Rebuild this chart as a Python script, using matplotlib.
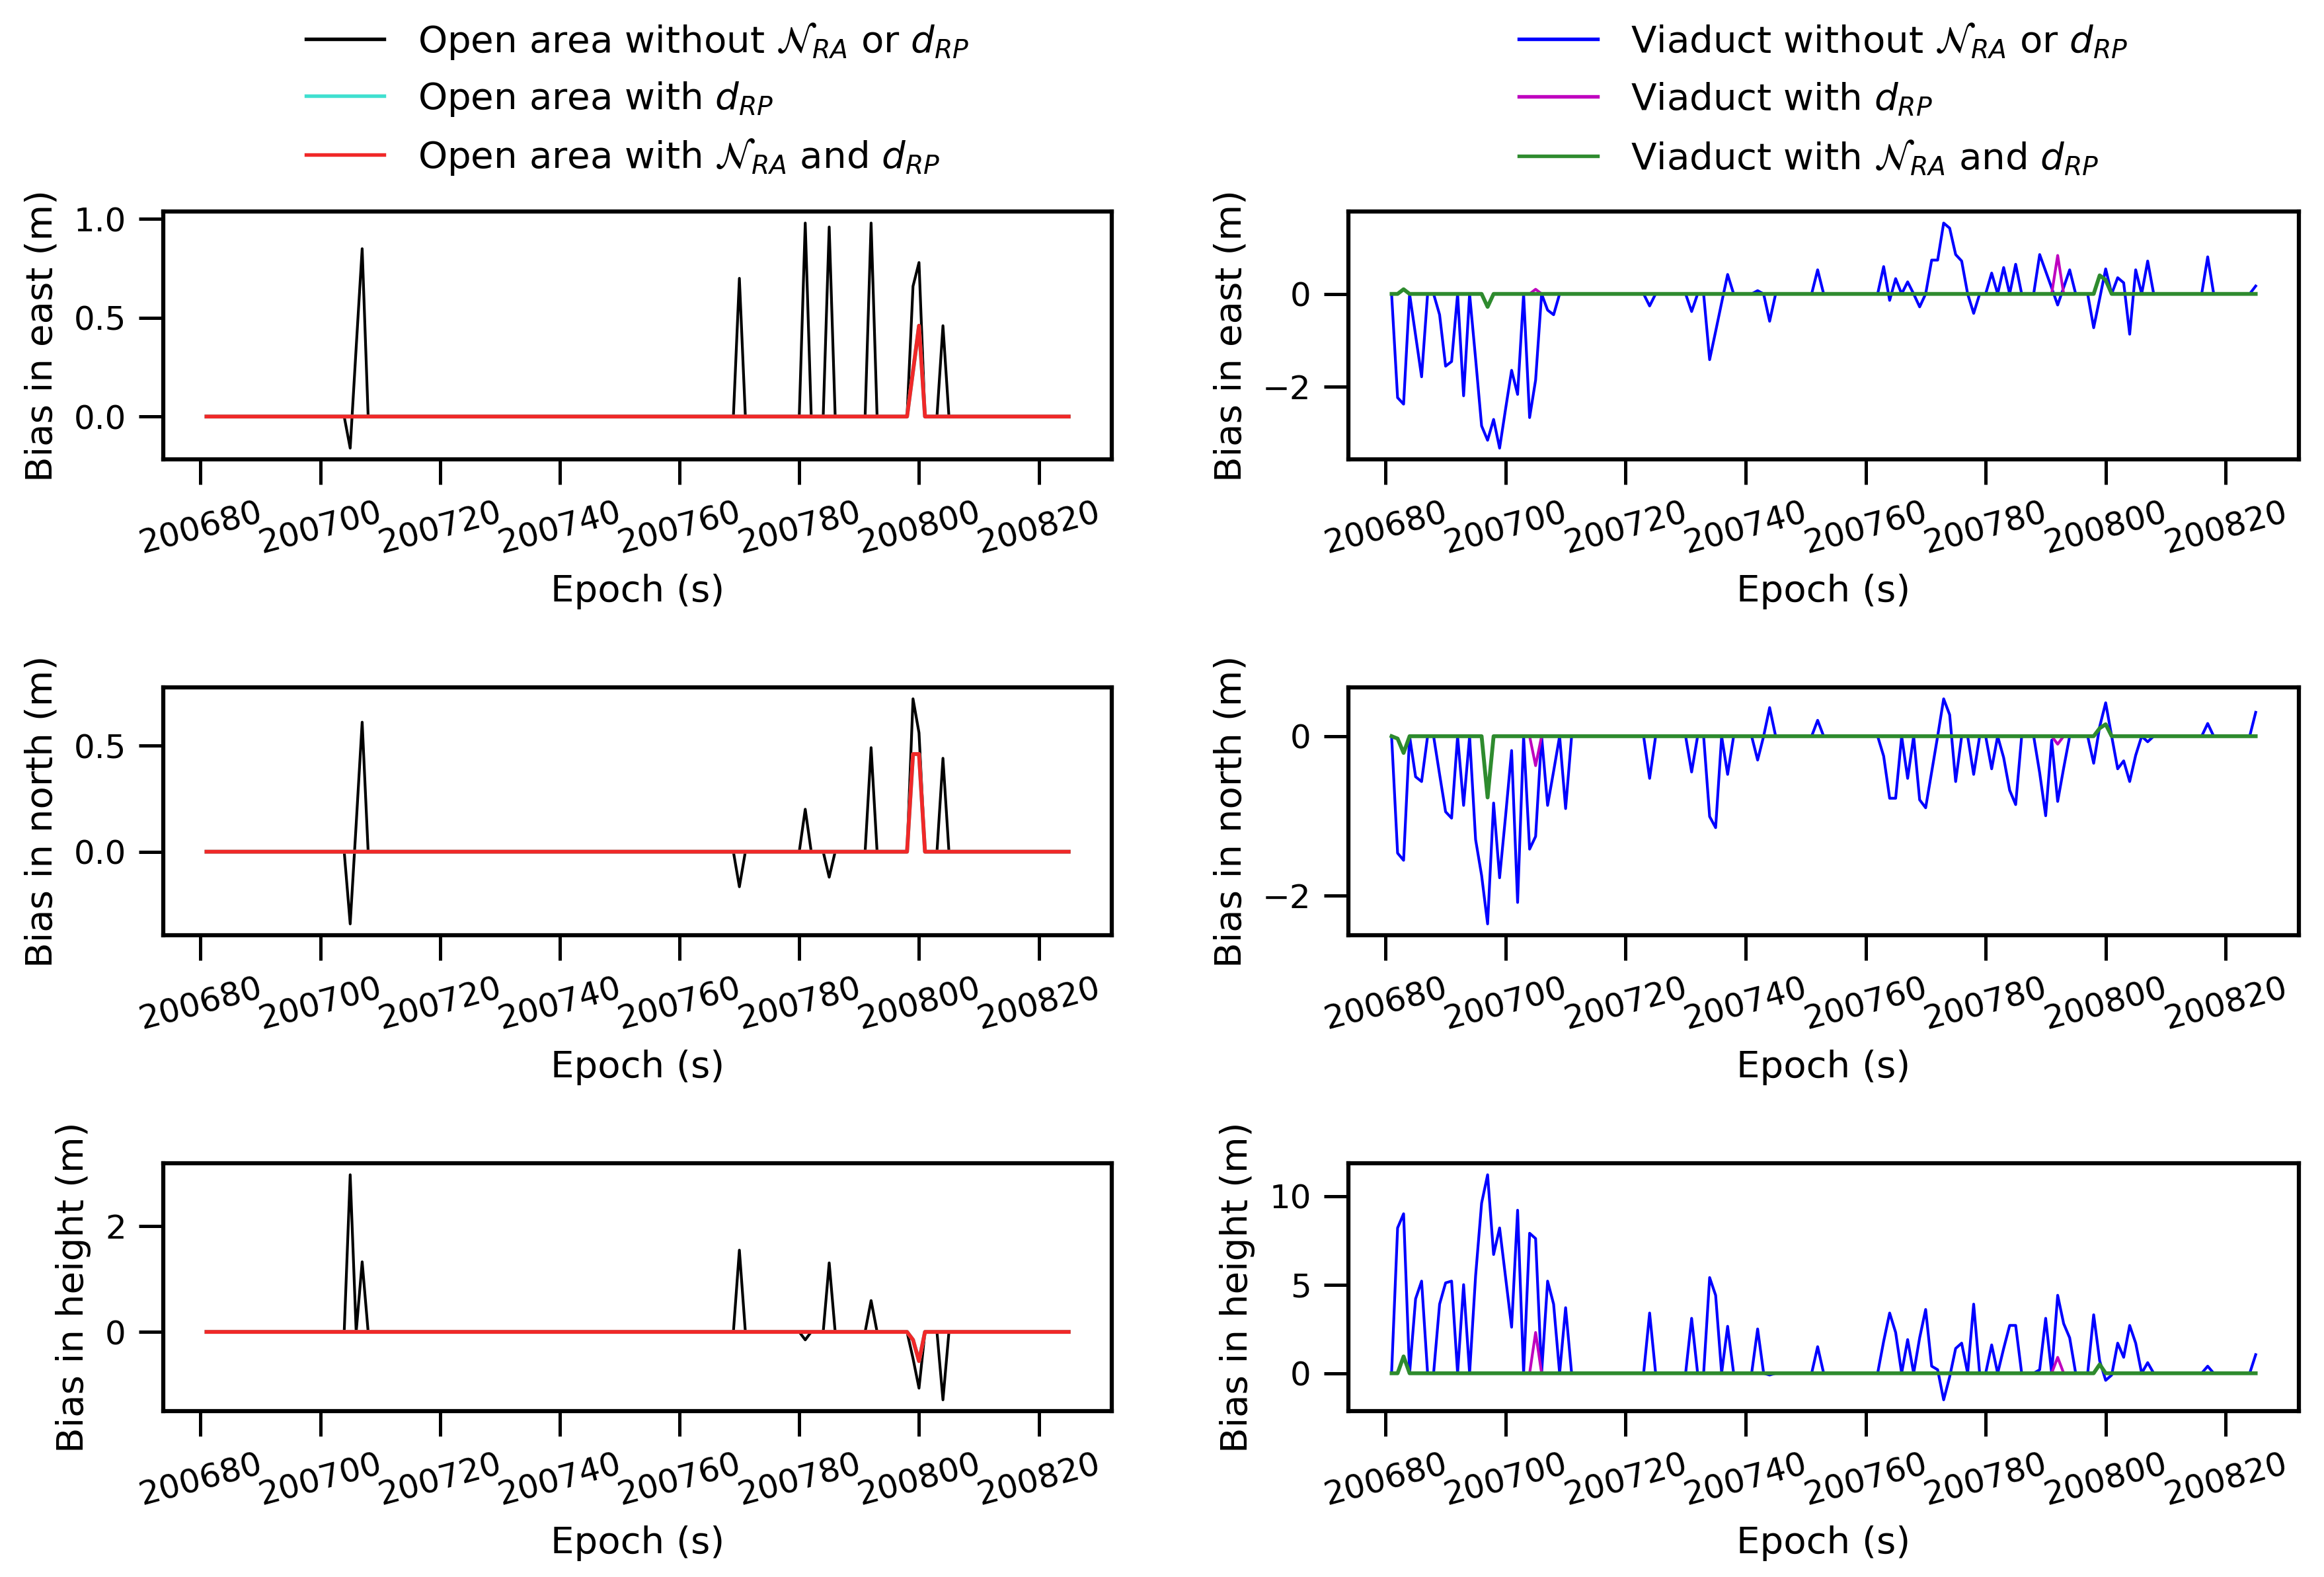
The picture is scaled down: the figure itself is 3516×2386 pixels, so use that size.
import matplotlib
matplotlib.use("Agg")
import matplotlib.pyplot as plt
from matplotlib.ticker import ScalarFormatter

plt.rcParams['font.family'] = ['DejaVu Sans']

# ---------------- data (epochs 200681 ... 200825, 1 s) ----------------
epochs = list(range(200681, 200826))
xticks = [200680, 200700, 200720, 200740, 200760, 200780, 200800, 200820]

# Open area, east
oe_raw = [0, 0, 0, 0, 0, 0, 0, 0, 0, 0,
          0, 0, 0, 0, 0, 0, 0, 0, 0, 0,
          0, 0, 0, 0, -0.16, 0.35, 0.85, 0, 0, 0,
          0, 0, 0, 0, 0, 0, 0, 0, 0, 0,
          0, 0, 0, 0, 0, 0, 0, 0, 0, 0,
          0, 0, 0, 0, 0, 0, 0, 0, 0, 0,
          0, 0, 0, 0, 0, 0, 0, 0, 0, 0,
          0, 0, 0, 0, 0, 0, 0, 0, 0, 0,
          0, 0, 0, 0, 0, 0, 0, 0, 0, 0.70,
          0, 0, 0, 0, 0, 0, 0, 0, 0, 0,
          0.98, 0, 0, 0, 0.96, 0, 0, 0, 0, 0,
          0, 0.98, 0, 0, 0, 0, 0, 0, 0.66, 0.78,
          0, 0, 0, 0.46, 0, 0, 0, 0, 0, 0,
          0, 0, 0, 0, 0, 0, 0, 0, 0, 0,
          0, 0, 0, 0, 0]
oe_drp = [0, 0, 0, 0, 0, 0, 0, 0, 0, 0,
          0, 0, 0, 0, 0, 0, 0, 0, 0, 0,
          0, 0, 0, 0, 0, 0, 0, 0, 0, 0,
          0, 0, 0, 0, 0, 0, 0, 0, 0, 0,
          0, 0, 0, 0, 0, 0, 0, 0, 0, 0,
          0, 0, 0, 0, 0, 0, 0, 0, 0, 0,
          0, 0, 0, 0, 0, 0, 0, 0, 0, 0,
          0, 0, 0, 0, 0, 0, 0, 0, 0, 0,
          0, 0, 0, 0, 0, 0, 0, 0, 0, 0,
          0, 0, 0, 0, 0, 0, 0, 0, 0, 0,
          0, 0, 0, 0, 0, 0, 0, 0, 0, 0,
          0, 0, 0, 0, 0, 0, 0, 0, 0.23, 0.46,
          0, 0, 0, 0, 0, 0, 0, 0, 0, 0,
          0, 0, 0, 0, 0, 0, 0, 0, 0, 0,
          0, 0, 0, 0, 0]
oe_both = [0, 0, 0, 0, 0, 0, 0, 0, 0, 0,
           0, 0, 0, 0, 0, 0, 0, 0, 0, 0,
           0, 0, 0, 0, 0, 0, 0, 0, 0, 0,
           0, 0, 0, 0, 0, 0, 0, 0, 0, 0,
           0, 0, 0, 0, 0, 0, 0, 0, 0, 0,
           0, 0, 0, 0, 0, 0, 0, 0, 0, 0,
           0, 0, 0, 0, 0, 0, 0, 0, 0, 0,
           0, 0, 0, 0, 0, 0, 0, 0, 0, 0,
           0, 0, 0, 0, 0, 0, 0, 0, 0, 0,
           0, 0, 0, 0, 0, 0, 0, 0, 0, 0,
           0, 0, 0, 0, 0, 0, 0, 0, 0, 0,
           0, 0, 0, 0, 0, 0, 0, 0, 0.23, 0.46,
           0, 0, 0, 0, 0, 0, 0, 0, 0, 0,
           0, 0, 0, 0, 0, 0, 0, 0, 0, 0,
           0, 0, 0, 0, 0]

# Open area, north
on_raw = [0, 0, 0, 0, 0, 0, 0, 0, 0, 0,
          0, 0, 0, 0, 0, 0, 0, 0, 0, 0,
          0, 0, 0, 0, -0.34, 0.13, 0.61, 0, 0, 0,
          0, 0, 0, 0, 0, 0, 0, 0, 0, 0,
          0, 0, 0, 0, 0, 0, 0, 0, 0, 0,
          0, 0, 0, 0, 0, 0, 0, 0, 0, 0,
          0, 0, 0, 0, 0, 0, 0, 0, 0, 0,
          0, 0, 0, 0, 0, 0, 0, 0, 0, 0,
          0, 0, 0, 0, 0, 0, 0, 0, 0, -0.165,
          0, 0, 0, 0, 0, 0, 0, 0, 0, 0,
          0.20, 0, 0, 0, -0.12, 0, 0, 0, 0, 0,
          0, 0.49, 0, 0, 0, 0, 0, 0, 0.72, 0.56,
          0, 0, 0, 0.44, 0, 0, 0, 0, 0, 0,
          0, 0, 0, 0, 0, 0, 0, 0, 0, 0,
          0, 0, 0, 0, 0]
on_drp = [0, 0, 0, 0, 0, 0, 0, 0, 0, 0,
          0, 0, 0, 0, 0, 0, 0, 0, 0, 0,
          0, 0, 0, 0, 0, 0, 0, 0, 0, 0,
          0, 0, 0, 0, 0, 0, 0, 0, 0, 0,
          0, 0, 0, 0, 0, 0, 0, 0, 0, 0,
          0, 0, 0, 0, 0, 0, 0, 0, 0, 0,
          0, 0, 0, 0, 0, 0, 0, 0, 0, 0,
          0, 0, 0, 0, 0, 0, 0, 0, 0, 0,
          0, 0, 0, 0, 0, 0, 0, 0, 0, 0,
          0, 0, 0, 0, 0, 0, 0, 0, 0, 0,
          0, 0, 0, 0, 0, 0, 0, 0, 0, 0,
          0, 0, 0, 0, 0, 0, 0, 0, 0.46, 0.46,
          0, 0, 0, 0, 0, 0, 0, 0, 0, 0,
          0, 0, 0, 0, 0, 0, 0, 0, 0, 0,
          0, 0, 0, 0, 0]
on_both = [0, 0, 0, 0, 0, 0, 0, 0, 0, 0,
           0, 0, 0, 0, 0, 0, 0, 0, 0, 0,
           0, 0, 0, 0, 0, 0, 0, 0, 0, 0,
           0, 0, 0, 0, 0, 0, 0, 0, 0, 0,
           0, 0, 0, 0, 0, 0, 0, 0, 0, 0,
           0, 0, 0, 0, 0, 0, 0, 0, 0, 0,
           0, 0, 0, 0, 0, 0, 0, 0, 0, 0,
           0, 0, 0, 0, 0, 0, 0, 0, 0, 0,
           0, 0, 0, 0, 0, 0, 0, 0, 0, 0,
           0, 0, 0, 0, 0, 0, 0, 0, 0, 0,
           0, 0, 0, 0, 0, 0, 0, 0, 0, 0,
           0, 0, 0, 0, 0, 0, 0, 0, 0.46, 0.46,
           0, 0, 0, 0, 0, 0, 0, 0, 0, 0,
           0, 0, 0, 0, 0, 0, 0, 0, 0, 0,
           0, 0, 0, 0, 0]

# Open area, height
oh_raw = [0, 0, 0, 0, 0, 0, 0, 0, 0, 0,
          0, 0, 0, 0, 0, 0, 0, 0, 0, 0,
          0, 0, 0, 0, 2.96, 0, 1.32, 0, 0, 0,
          0, 0, 0, 0, 0, 0, 0, 0, 0, 0,
          0, 0, 0, 0, 0, 0, 0, 0, 0, 0,
          0, 0, 0, 0, 0, 0, 0, 0, 0, 0,
          0, 0, 0, 0, 0, 0, 0, 0, 0, 0,
          0, 0, 0, 0, 0, 0, 0, 0, 0, 0,
          0, 0, 0, 0, 0, 0, 0, 0, 0, 1.54,
          0, 0, 0, 0, 0, 0, 0, 0, 0, 0,
          -0.15, 0, 0, 0, 1.30, 0, 0, 0, 0, 0,
          0, 0.59, 0, 0, 0, 0, 0, 0, -0.50, -1.06,
          0, 0, 0, -1.28, 0, 0, 0, 0, 0, 0,
          0, 0, 0, 0, 0, 0, 0, 0, 0, 0,
          0, 0, 0, 0, 0]
oh_drp = [0, 0, 0, 0, 0, 0, 0, 0, 0, 0,
          0, 0, 0, 0, 0, 0, 0, 0, 0, 0,
          0, 0, 0, 0, 0, 0, 0, 0, 0, 0,
          0, 0, 0, 0, 0, 0, 0, 0, 0, 0,
          0, 0, 0, 0, 0, 0, 0, 0, 0, 0,
          0, 0, 0, 0, 0, 0, 0, 0, 0, 0,
          0, 0, 0, 0, 0, 0, 0, 0, 0, 0,
          0, 0, 0, 0, 0, 0, 0, 0, 0, 0,
          0, 0, 0, 0, 0, 0, 0, 0, 0, 0,
          0, 0, 0, 0, 0, 0, 0, 0, 0, 0,
          0, 0, 0, 0, 0, 0, 0, 0, 0, 0,
          0, 0, 0, 0, 0, 0, 0, 0, -0.15, -0.55,
          0, 0, 0, 0, 0, 0, 0, 0, 0, 0,
          0, 0, 0, 0, 0, 0, 0, 0, 0, 0,
          0, 0, 0, 0, 0]
oh_both = [0, 0, 0, 0, 0, 0, 0, 0, 0, 0,
           0, 0, 0, 0, 0, 0, 0, 0, 0, 0,
           0, 0, 0, 0, 0, 0, 0, 0, 0, 0,
           0, 0, 0, 0, 0, 0, 0, 0, 0, 0,
           0, 0, 0, 0, 0, 0, 0, 0, 0, 0,
           0, 0, 0, 0, 0, 0, 0, 0, 0, 0,
           0, 0, 0, 0, 0, 0, 0, 0, 0, 0,
           0, 0, 0, 0, 0, 0, 0, 0, 0, 0,
           0, 0, 0, 0, 0, 0, 0, 0, 0, 0,
           0, 0, 0, 0, 0, 0, 0, 0, 0, 0,
           0, 0, 0, 0, 0, 0, 0, 0, 0, 0,
           0, 0, 0, 0, 0, 0, 0, 0, -0.15, -0.55,
           0, 0, 0, 0, 0, 0, 0, 0, 0, 0,
           0, 0, 0, 0, 0, 0, 0, 0, 0, 0,
           0, 0, 0, 0, 0]

# Viaduct, east
ve_raw = [0, -2.24, -2.38, 0, -0.90, -1.79, 0, 0, -0.45, -1.56,
          -1.46, 0, -2.20, 0, -1.40, -2.85, -3.16, -2.71, -3.33, -2.48,
          -1.65, -2.17, 0, -2.67, -1.86, 0, -0.35, -0.45, 0, 0,
          0, 0, 0, 0, 0, 0, 0, 0, 0, 0,
          0, 0, 0, -0.26, 0, 0, 0, 0, 0, 0,
          -0.38, 0, 0, -1.42, -0.81, -0.19, 0.42, 0, 0, 0,
          0, 0.07, 0, -0.59, 0, 0, 0, 0, 0, 0,
          0, 0.52, 0, 0, 0, 0, 0, 0, 0, 0,
          0, 0, 0.59, -0.14, 0.33, 0, 0.26, 0, -0.28, 0,
          0.73, 0.73, 1.53, 1.42, 0.85, 0.71, 0, -0.42, 0, 0,
          0.45, 0, 0.57, 0, 0.64, 0, 0, 0, 0.85, 0.49,
          0.13, -0.24, 0.14, 0.52, 0, 0, 0, -0.73, -0.10, 0.54,
          0, 0.35, 0.24, -0.87, 0.52, 0, 0.71, 0, 0, 0,
          0, 0, 0, 0, 0, 0, 0.80, 0, 0, 0,
          0, 0, 0, 0, 0.17]
ve_drp = [0, 0, 0.10, 0, 0, 0, 0, 0, 0, 0,
          0, 0, 0, 0, 0, 0, -0.28, 0, 0, 0,
          0, 0, 0, 0, 0.10, 0, 0, 0, 0, 0,
          0, 0, 0, 0, 0, 0, 0, 0, 0, 0,
          0, 0, 0, 0, 0, 0, 0, 0, 0, 0,
          0, 0, 0, 0, 0, 0, 0, 0, 0, 0,
          0, 0, 0, 0, 0, 0, 0, 0, 0, 0,
          0, 0, 0, 0, 0, 0, 0, 0, 0, 0,
          0, 0, 0, 0, 0, 0, 0, 0, 0, 0,
          0, 0, 0, 0, 0, 0, 0, 0, 0, 0,
          0, 0, 0, 0, 0, 0, 0, 0, 0, 0,
          0, 0.83, 0, 0, 0, 0, 0, 0, 0.40, 0.30,
          0, 0, 0, 0, 0, 0, 0, 0, 0, 0,
          0, 0, 0, 0, 0, 0, 0, 0, 0, 0,
          0, 0, 0, 0, 0]
ve_both = [0, 0, 0.10, 0, 0, 0, 0, 0, 0, 0,
           0, 0, 0, 0, 0, 0, -0.28, 0, 0, 0,
           0, 0, 0, 0, 0, 0, 0, 0, 0, 0,
           0, 0, 0, 0, 0, 0, 0, 0, 0, 0,
           0, 0, 0, 0, 0, 0, 0, 0, 0, 0,
           0, 0, 0, 0, 0, 0, 0, 0, 0, 0,
           0, 0, 0, 0, 0, 0, 0, 0, 0, 0,
           0, 0, 0, 0, 0, 0, 0, 0, 0, 0,
           0, 0, 0, 0, 0, 0, 0, 0, 0, 0,
           0, 0, 0, 0, 0, 0, 0, 0, 0, 0,
           0, 0, 0, 0, 0, 0, 0, 0, 0, 0,
           0, 0, 0, 0, 0, 0, 0, 0, 0.40, 0.30,
           0, 0, 0, 0, 0, 0, 0, 0, 0, 0,
           0, 0, 0, 0, 0, 0, 0, 0, 0, 0,
           0, 0, 0, 0, 0]

# Viaduct, north
vn_raw = [0, -1.47, -1.56, 0, -0.51, -0.57, 0, 0, -0.48, -0.95,
          -1.03, 0, -0.87, 0, -1.30, -1.75, -2.36, -0.84, -1.78, -1.00,
          -0.18, -2.09, 0, -1.42, -1.26, 0, -0.87, -0.44, 0, -0.91,
          0, 0, 0, 0, 0, 0, 0, 0, 0, 0,
          0, 0, 0, -0.53, 0, 0, 0, 0, 0, 0,
          -0.45, 0, 0, -1.01, -1.15, 0, -0.48, 0, 0, 0,
          0, -0.30, 0, 0.36, 0, 0, 0, 0, 0, 0,
          0, 0.20, 0, 0, 0, 0, 0, 0, 0, 0,
          0, 0, -0.25, -0.78, -0.78, 0, -0.53, 0, -0.80, -0.90,
          -0.45, 0, 0.47, 0.27, -0.57, 0, 0, -0.48, 0, 0,
          -0.41, 0, -0.27, -0.68, -0.86, 0, 0, 0, -0.46, -1.00,
          -0.05, -0.82, -0.40, 0, 0, 0, 0, -0.34, 0.12, 0.42,
          0, -0.41, -0.31, -0.57, -0.24, 0, -0.07, 0, 0, 0,
          0, 0, 0, 0, 0, 0, 0.16, 0, 0, 0,
          0, 0, 0, 0, 0.30]
vn_drp = [0, -0.03, -0.21, 0, 0, 0, 0, 0, 0, 0,
          0, 0, 0, 0, 0, 0, -0.77, 0, 0, 0,
          0, 0, 0, 0, -0.37, 0, 0, 0, 0, 0,
          0, 0, 0, 0, 0, 0, 0, 0, 0, 0,
          0, 0, 0, 0, 0, 0, 0, 0, 0, 0,
          0, 0, 0, 0, 0, 0, 0, 0, 0, 0,
          0, 0, 0, 0, 0, 0, 0, 0, 0, 0,
          0, 0, 0, 0, 0, 0, 0, 0, 0, 0,
          0, 0, 0, 0, 0, 0, 0, 0, 0, 0,
          0, 0, 0, 0, 0, 0, 0, 0, 0, 0,
          0, 0, 0, 0, 0, 0, 0, 0, 0, 0,
          0, -0.10, 0, 0, 0, 0, 0, 0, 0.10, 0.15,
          0, 0, 0, 0, 0, 0, 0, 0, 0, 0,
          0, 0, 0, 0, 0, 0, 0, 0, 0, 0,
          0, 0, 0, 0, 0]
vn_both = [0, -0.03, -0.21, 0, 0, 0, 0, 0, 0, 0,
           0, 0, 0, 0, 0, 0, -0.77, 0, 0, 0,
           0, 0, 0, 0, 0, 0, 0, 0, 0, 0,
           0, 0, 0, 0, 0, 0, 0, 0, 0, 0,
           0, 0, 0, 0, 0, 0, 0, 0, 0, 0,
           0, 0, 0, 0, 0, 0, 0, 0, 0, 0,
           0, 0, 0, 0, 0, 0, 0, 0, 0, 0,
           0, 0, 0, 0, 0, 0, 0, 0, 0, 0,
           0, 0, 0, 0, 0, 0, 0, 0, 0, 0,
           0, 0, 0, 0, 0, 0, 0, 0, 0, 0,
           0, 0, 0, 0, 0, 0, 0, 0, 0, 0,
           0, 0, 0, 0, 0, 0, 0, 0, 0.10, 0.15,
           0, 0, 0, 0, 0, 0, 0, 0, 0, 0,
           0, 0, 0, 0, 0, 0, 0, 0, 0, 0,
           0, 0, 0, 0, 0]

# Viaduct, height
vh_raw = [0, 8.2, 9.0, 0, 4.2, 5.2, 0, 0, 3.9, 5.1,
          5.2, 0, 5.0, 0, 5.5, 9.6, 11.2, 6.7, 8.2, 5.4,
          2.6, 9.2, 0, 7.9, 7.6, 0, 5.2, 3.9, 0, 3.7,
          0, 0, 0, 0, 0, 0, 0, 0, 0, 0,
          0, 0, 0, 3.4, 0, 0, 0, 0, 0, 0,
          3.1, 0, 0, 5.4, 4.4, 0, 2.65, 0, 0, 0,
          0, 2.5, 0, -0.1, 0, 0, 0, 0, 0, 0,
          0, 1.5, 0, 0, 0, 0, 0, 0, 0, 0,
          0, 0, 1.8, 3.4, 2.3, 0, 1.9, 0, 2.0, 3.6,
          0.4, 0.2, -1.5, -0.2, 1.4, 1.7, 0, 3.9, 0, 0,
          1.6, 0, 1.4, 2.7, 2.7, 0, 0, 0, 0.2, 3.1,
          0, 4.4, 2.8, 2.0, 0, 0, 0, 3.3, 0.7, -0.4,
          -0.1, 1.7, 0.9, 2.7, 1.7, 0, 0.6, 0, 0, 0,
          0, 0, 0, 0, 0, 0, 0.4, 0, 0, 0,
          0, 0, 0, 0, 1.05]
vh_drp = [0, 0, 0.95, 0, 0, 0, 0, 0, 0, 0,
          0, 0, 0, 0, 0, 0, 0, 0, 0, 0,
          0, 0, 0, 0, 2.3, 0, 0, 0, 0, 0,
          0, 0, 0, 0, 0, 0, 0, 0, 0, 0,
          0, 0, 0, 0, 0, 0, 0, 0, 0, 0,
          0, 0, 0, 0, 0, 0, 0, 0, 0, 0,
          0, 0, 0, 0, 0, 0, 0, 0, 0, 0,
          0, 0, 0, 0, 0, 0, 0, 0, 0, 0,
          0, 0, 0, 0, 0, 0, 0, 0, 0, 0,
          0, 0, 0, 0, 0, 0, 0, 0, 0, 0,
          0, 0, 0, 0, 0, 0, 0, 0, 0, 0,
          0, 0.9, 0, 0, 0, 0, 0, 0, 0.5, 0,
          0, 0, 0, 0, 0, 0, 0, 0, 0, 0,
          0, 0, 0, 0, 0, 0, 0, 0, 0, 0,
          0, 0, 0, 0, 0]
vh_both = [0, 0, 0.95, 0, 0, 0, 0, 0, 0, 0,
           0, 0, 0, 0, 0, 0, 0, 0, 0, 0,
           0, 0, 0, 0, 0, 0, 0, 0, 0, 0,
           0, 0, 0, 0, 0, 0, 0, 0, 0, 0,
           0, 0, 0, 0, 0, 0, 0, 0, 0, 0,
           0, 0, 0, 0, 0, 0, 0, 0, 0, 0,
           0, 0, 0, 0, 0, 0, 0, 0, 0, 0,
           0, 0, 0, 0, 0, 0, 0, 0, 0, 0,
           0, 0, 0, 0, 0, 0, 0, 0, 0, 0,
           0, 0, 0, 0, 0, 0, 0, 0, 0, 0,
           0, 0, 0, 0, 0, 0, 0, 0, 0, 0,
           0, 0, 0, 0, 0, 0, 0, 0, 0.5, 0,
           0, 0, 0, 0, 0, 0, 0, 0, 0, 0,
           0, 0, 0, 0, 0, 0, 0, 0, 0, 0,
           0, 0, 0, 0, 0]

open_labels = [r"Open area without $\mathcal{N}_{RA}$ or $d_{RP}$",
               r"Open area with $d_{RP}$",
               r"Open area with $\mathcal{N}_{RA}$ and $d_{RP}$"]
via_labels = [r"Viaduct without $\mathcal{N}_{RA}$ or $d_{RP}$",
              r"Viaduct with $d_{RP}$",
              r"Viaduct with $\mathcal{N}_{RA}$ and $d_{RP}$"]
ylabels = ["Bias in east (m)", "Bias in north (m)", "Bias in height (m)"]
left_yticks = [[0.0, 0.5, 1.0], [0.0, 0.5], [0, 2]]
left_yticklabels = [["0.0", "0.5", "1.0"], ["0.0", "0.5"], ["0", "2"]]
right_yticks = [[-2, 0], [-2, 0], [0, 5, 10]]

open_series = [(oe_raw, oe_drp, oe_both), (on_raw, on_drp, on_both), (oh_raw, oh_drp, oh_both)]
via_series = [(ve_raw, ve_drp, ve_both), (vn_raw, vn_drp, vn_both), (vh_raw, vh_drp, vh_both)]

open_colors = ["black", "turquoise", "#f02828"]
via_colors = ["blue", "m", "#2e8b2e"]
thin_lw, thick_lw = 1.0, 1.4

# ---------------- figure ----------------
W, H, DPI = 3516, 2386, 300
fig = plt.figure(figsize=(W / DPI, H / DPI), dpi=DPI)

col_x = [0.0703, 0.5802]
col_w = [0.4081, 0.4090]
row_y = [0.7087, 0.4070, 0.1052]
row_h = 0.1570

LABEL_FS = 13.5
TICK_FS = 12


def style_axis(ax, ylabel):
    for sp in ax.spines.values():
        sp.set_linewidth(1.5)
        sp.set_color("black")
    ax.tick_params(axis="both", direction="out", length=9, width=1.2,
                   pad=4.5, labelsize=TICK_FS, colors="black")
    ax.set_xticks(xticks)
    fmt = ScalarFormatter(useOffset=False)
    fmt.set_scientific(False)
    ax.xaxis.set_major_formatter(fmt)
    for lab in ax.get_xticklabels():
        lab.set_rotation(15)
        lab.set_ha("center")
    ax.set_xlabel("Epoch (s)", fontsize=LABEL_FS, labelpad=5)
    ax.set_ylabel(ylabel, fontsize=LABEL_FS, labelpad=5)


axes_left, axes_right = [], []
for r in range(3):
    axl = fig.add_axes([col_x[0], row_y[r], col_w[0], row_h])
    raw, drp, both = open_series[r]
    axl.plot(epochs, raw, color=open_colors[0], lw=thin_lw, label=open_labels[0])
    axl.plot(epochs, drp, color=open_colors[1], lw=thick_lw, label=open_labels[1])
    axl.plot(epochs, both, color=open_colors[2], lw=thick_lw, label=open_labels[2])
    style_axis(axl, ylabels[r])
    axl.set_yticks(left_yticks[r])
    axl.set_yticklabels(left_yticklabels[r])
    axes_left.append(axl)

    axr = fig.add_axes([col_x[1], row_y[r], col_w[1], row_h])
    raw, drp, both = via_series[r]
    axr.plot(epochs, raw, color=via_colors[0], lw=thin_lw, label=via_labels[0])
    axr.plot(epochs, drp, color=via_colors[1], lw=thin_lw, label=via_labels[1])
    axr.plot(epochs, both, color=via_colors[2], lw=thick_lw, label=via_labels[2])
    style_axis(axr, ylabels[r])
    axr.set_yticks(right_yticks[r])
    axes_right.append(axr)

for ax, spacing in ((axes_left[0], 0.5), (axes_right[0], 0.58)):
    leg = ax.legend(loc="lower center", bbox_to_anchor=(0.5, 1.08), frameon=False,
                    fontsize=LABEL_FS, handlelength=2.1, handletextpad=0.9,
                    labelspacing=spacing, borderaxespad=0.0)
    for line in leg.get_lines():
        line.set_linewidth(1.3)

fig.savefig("out.png", dpi=DPI, facecolor="white")
